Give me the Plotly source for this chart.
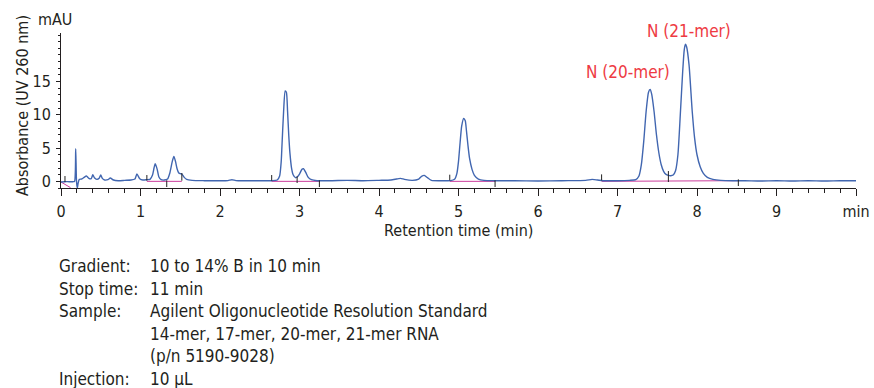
import plotly.graph_objects as go

# ---------------- data ----------------
time_min = [
    0.00, 0.05, 0.10, 0.15, 0.17, 0.185, 0.195, 0.205, 0.215, 0.23, 0.26, 0.29, 0.32, 0.35, 0.38,
    0.40, 0.42, 0.45, 0.48, 0.50, 0.52, 0.55, 0.59, 0.62, 0.66, 0.72, 0.80, 0.88, 0.93, 0.955,
    0.99, 1.03, 1.08, 1.12, 1.15, 1.17, 1.185, 1.21, 1.23, 1.26, 1.30, 1.34, 1.37, 1.40, 1.42,
    1.44, 1.46, 1.48, 1.50, 1.52, 1.55, 1.58, 1.65, 1.80, 2.00, 2.10, 2.15, 2.20, 2.30, 2.50,
    2.65, 2.72, 2.75, 2.77, 2.78, 2.80, 2.82, 2.835, 2.85, 2.865, 2.88, 2.90, 2.92, 2.95, 2.97,
    3.00, 3.03, 3.05, 3.08, 3.11, 3.15, 3.22, 3.40, 3.60, 3.80, 4.00, 4.15, 4.22, 4.27, 4.32,
    4.42, 4.50, 4.54, 4.57, 4.61, 4.66, 4.80, 4.90, 4.95, 4.98, 5.00, 5.02, 5.04, 5.065, 5.085,
    5.10, 5.12, 5.14, 5.17, 5.20, 5.25, 5.32, 5.45, 5.70, 6.00, 6.30, 6.60, 6.68, 6.75, 6.82,
    7.00, 7.15, 7.23, 7.27, 7.30, 7.33, 7.36, 7.39, 7.41, 7.43, 7.46, 7.49, 7.52, 7.55, 7.58,
    7.61, 7.64, 7.67, 7.70, 7.73, 7.76, 7.79, 7.82, 7.84, 7.855, 7.87, 7.90, 7.94, 7.97, 8.00,
    8.04, 8.08, 8.13, 8.20, 8.30, 8.45, 8.60, 8.80, 9.00, 9.20, 9.40, 9.60, 9.80, 10.00,
]
absorbance_mau = [
    -0.10, -0.05, -0.05, -0.05, 0.00, 4.90, 0.00, -1.00, -0.30, 0.30, 0.35, 0.60, 0.80, 0.45, 0.40,
    1.00, 0.55, 0.30, 0.45, 0.95, 0.45, 0.20, 0.25, 0.50, 0.20, 0.10, 0.15, 0.20, 0.35, 1.10,
    0.40, 0.20, 0.25, 0.30, 0.90, 2.00, 2.65, 1.80, 0.70, 0.25, 0.20, 0.35, 1.30, 3.00, 3.75,
    3.00, 1.90, 1.30, 1.15, 1.10, 0.60, 0.30, 0.15, 0.10, 0.10, 0.10, 0.25, 0.10, 0.10, 0.10,
    0.10, 0.20, 0.80, 3.00, 5.50, 10.50, 13.60, 13.40, 10.50, 6.90, 4.20, 2.00, 1.00, 0.55, 0.65,
    1.10, 1.80, 1.90, 1.30, 0.60, 0.25, 0.10, 0.10, 0.15, 0.10, 0.15, 0.20, 0.35, 0.45, 0.30,
    0.15, 0.35, 0.80, 0.90, 0.55, 0.15, 0.10, 0.10, 0.30, 1.20, 3.00, 5.80, 8.30, 9.45, 9.10,
    7.60, 5.30, 3.40, 1.80, 0.90, 0.35, 0.15, 0.10, 0.10, 0.05, 0.10, 0.15, 0.30, 0.20, 0.10,
    0.10, 0.15, 0.25, 0.80, 2.50, 6.00, 10.50, 13.40, 13.80, 13.10, 10.50, 7.00, 4.30, 2.50, 1.50,
    1.05, 0.90, 0.85, 0.95, 1.60, 4.00, 10.00, 16.50, 19.80, 20.60, 20.20, 17.50, 10.50, 6.50, 4.00,
    2.20, 1.20, 0.60, 0.30, 0.15, 0.10, 0.10, 0.05, 0.10, 0.05, 0.10, 0.05, 0.10, 0.10,
]

# integration baselines (start t, start y, end t, end y)
baseline_start_t = [0.00, 1.08, 1.33, 2.65, 2.97, 4.89, 6.80, 7.64]
baseline_start_y = [-0.10, 0.00, 0.00, 0.00, 0.00, 0.00, 0.00, 0.05]
baseline_end_t = [0.12, 1.33, 1.52, 2.97, 3.25, 5.46, 7.64, 8.52]
baseline_end_y = [-0.95, 0.00, 0.00, 0.00, 0.00, 0.00, 0.05, 0.10]

# integration event marks (time, low y, high y)
event_t = [0.05, 1.08, 1.33, 1.52, 2.65, 2.97, 3.25, 4.89, 5.46, 6.80, 7.64, 8.52]
event_lo = [-0.10, 0.10, -0.85, 0.10, 0.10, -0.25, -0.85, 0.15, -0.85, 0.15, -0.10, -0.70]
event_hi = [0.80, 0.95, 0.15, 1.25, 0.95, 0.75, 0.15, 1.00, 0.15, 1.05, 1.55, 0.30]

x_tick_vals = [0, 1, 2, 3, 4, 5, 6, 7, 8, 9, 10]
x_tick_text = ["0", "1", "2", "3", "4", "5", "6", "7", "8", "9", "min"]
y_tick_vals = [0, 5, 10, 15]

peak_labels = ["N (20-mer)", "N (21-mer)"]
peak_label_t = [7.13, 7.90]
peak_label_y = [16.4, 22.6]

info_keys = ["Gradient:", "Stop time:", "Sample:", "", "", "Injection:"]
info_vals = [
    "10 to 14% B in 10 min",
    "11 min",
    "Agilent Oligonucleotide Resolution Standard",
    "14-mer, 17-mer, 20-mer, 21-mer RNA",
    "(p/n 5190-9028)",
    "10 µL",
]

# ---------------- figure ----------------
FONT = "DejaVu Sans Condensed, Liberation Sans Narrow, sans-serif"
TXT = "#231f20"
W, H = 874, 388
ML, MR, MT, MB = 61, 18, 33, 200
PW, PH = W - ML - MR, H - MT - MB
Y0, Y1 = -1.0, 22.3


def px_to_paper(px, py):
    return (px - ML) / PW, (H - MB - py) / PH


def data_to_paper(t, y):
    return t / 10.0, (y - Y0) / (Y1 - Y0)


fig = go.Figure()

# pink integration baselines
bx, by = [], []
for t0, y0, t1, y1 in zip(baseline_start_t, baseline_start_y, baseline_end_t, baseline_end_y):
    bx += [t0, t1, None]
    by += [y0, y1, None]
fig.add_trace(go.Scatter(x=bx, y=by, mode="lines", line=dict(color="#cc3d9c", width=1),
                         hoverinfo="skip", showlegend=False))

# the chromatogram trace
fig.add_trace(go.Scatter(x=time_min, y=absorbance_mau, mode="lines",
                         line=dict(color="#4166b0", width=1.4, shape="spline", smoothing=0.6),
                         showlegend=False))

# event ticks
ex, ey = [], []
for t, lo, hi in zip(event_t, event_lo, event_hi):
    ex += [t, t, None]
    ey += [lo, hi, None]
fig.add_trace(go.Scatter(x=ex, y=ey, mode="lines", line=dict(color="#222222", width=1),
                         hoverinfo="skip", showlegend=False))

fig.update_layout(
    width=W, height=H, autosize=False,
    margin=dict(l=ML, r=MR, t=MT, b=MB, pad=0, autoexpand=False),
    paper_bgcolor="white", plot_bgcolor="white",
    font=dict(family=FONT, size=16, color=TXT),
    showlegend=False,
)
fig.update_xaxes(
    range=[0, 10], showline=True, linecolor=TXT, linewidth=1, showgrid=False, zeroline=False,
    automargin=False,
    tickmode="array", tickvals=x_tick_vals, ticktext=x_tick_text,
    ticks="outside", ticklen=7, tickwidth=1, tickcolor=TXT, ticklabelstandoff=2,
    tickfont=dict(family=FONT, size=16, color=TXT),
    minor=dict(dtick=0.2, tick0=0, ticks="outside", ticklen=4, tickwidth=1, tickcolor=TXT),
)
fig.update_yaxes(
    range=[Y0, Y1], showline=True, linecolor=TXT, linewidth=1, showgrid=False, zeroline=False,
    automargin=False,
    tickmode="array", tickvals=y_tick_vals,
    ticks="outside", ticklen=4, tickwidth=1, tickcolor=TXT, ticklabelstandoff=2,
    tickfont=dict(family=FONT, size=16, color=TXT),
    minor=dict(dtick=1, tick0=0, ticks="outside", ticklen=2, tickwidth=1, tickcolor=TXT),
)

annotations = []
for lab, t, y in zip(peak_labels, peak_label_t, peak_label_y):
    ax, ay = data_to_paper(t, y)
    annotations.append(dict(x=ax, y=ay, xref="paper", yref="paper", text=lab, showarrow=False,
                            font=dict(family=FONT, size=17, color="#ee3a43"),
                            xanchor="center", yanchor="middle"))

ax, ay = px_to_paper(55, 20)
annotations.append(dict(x=ax, y=ay, xref="paper", yref="paper", text="mAU", showarrow=False,
                        font=dict(family=FONT, size=16, color=TXT), xanchor="center", yanchor="middle"))
ax, ay = px_to_paper(22, 106)
annotations.append(dict(x=ax, y=ay, xref="paper", yref="paper", text="Absorbance (UV 260 nm)",
                        showarrow=False, textangle=-90,
                        font=dict(family=FONT, size=16, color=TXT), xanchor="center", yanchor="middle"))
ax, ay = px_to_paper(458, 230)
annotations.append(dict(x=ax, y=ay, xref="paper", yref="paper", text="Retention time (min)",
                        showarrow=False, font=dict(family=FONT, size=16, color=TXT),
                        xanchor="center", yanchor="middle"))

line_y0, line_dy = 266.0, 22.5
for i, (k, v) in enumerate(zip(info_keys, info_vals)):
    py = line_y0 + i * line_dy
    if k:
        kx, ky = px_to_paper(57, py)
        annotations.append(dict(x=kx, y=ky, xref="paper", yref="paper", text=k, showarrow=False,
                                font=dict(family=FONT, size=17, color=TXT),
                                xanchor="left", yanchor="middle"))
    vx, vy = px_to_paper(148, py)
    annotations.append(dict(x=vx, y=vy, xref="paper", yref="paper", text=v, showarrow=False,
                            font=dict(family=FONT, size=17, color=TXT),
                            xanchor="left", yanchor="middle"))

fig.update_layout(annotations=annotations)
fig.write_html("out.html",
               config={"responsive": False, "displayModeBar": False},
               post_script="document.body.style.margin='0';document.body.style.padding='0';")
